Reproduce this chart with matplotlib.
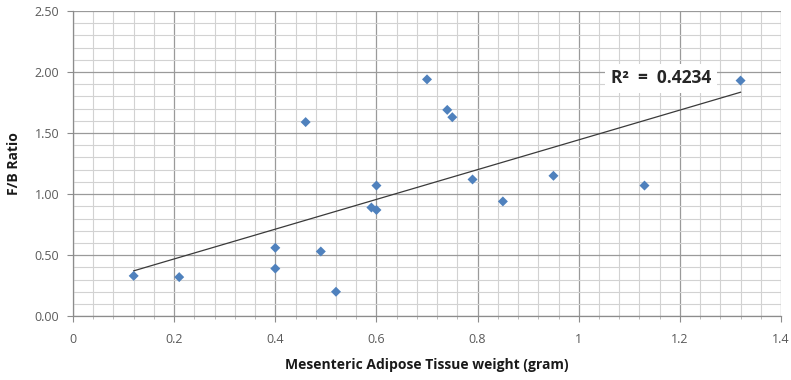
import numpy as np
import matplotlib
matplotlib.use("Agg")
import matplotlib.pyplot as plt
from matplotlib.ticker import MultipleLocator, FuncFormatter

plt.rcParams['font.family'] = ['Open Sans', 'DejaVu Sans']

# adipose tissue weight (g) vs F/B ratio
mat_weight = [0.12, 0.21, 0.40, 0.40, 0.49, 0.52, 0.59, 0.60, 0.60, 0.46,
              0.70, 0.74, 0.75, 0.79, 0.95, 1.13, 1.32, 0.85]
fb_ratio = [0.33, 0.32, 0.56, 0.39, 0.53, 0.20, 0.89, 0.87, 1.07, 1.59,
            1.94, 1.69, 1.63, 1.12, 1.15, 1.07, 1.93, 0.94]
r2_label = "R²  =  0.4234"

x = np.array(mat_weight)
y = np.array(fb_ratio)
slope, intercept = np.polyfit(x, y, 1)

fig = plt.figure(figsize=(7.91, 3.80), dpi=100)
ax = fig.add_axes([0.0923, 0.168, 0.8951, 0.803])

ax.set_xlim(0, 1.4)
ax.set_ylim(0, 2.5)
ax.xaxis.set_major_locator(MultipleLocator(0.2))
ax.xaxis.set_minor_locator(MultipleLocator(0.04))
ax.yaxis.set_major_locator(MultipleLocator(0.5))
ax.yaxis.set_minor_locator(MultipleLocator(0.1))
ax.xaxis.set_major_formatter(FuncFormatter(lambda v, p: f"{v:g}"))
ax.yaxis.set_major_formatter(FuncFormatter(lambda v, p: f"{v:.2f}"))

ax.grid(which='major', color='#9a9a9a', linewidth=0.9)
ax.grid(which='minor', color='#d2d2d2', linewidth=0.8)
ax.set_axisbelow(True)
for side in ['top', 'right']:
    ax.spines[side].set_visible(False)
for side in ['left', 'bottom']:
    ax.spines[side].set_color('#8c8c8c')
    ax.spines[side].set_linewidth(0.9)

ax.tick_params(which='major', length=4, color='#8c8c8c', labelsize=9,
               labelcolor='#5a5a5a')
ax.tick_params(axis='y', which='minor', length=0)
ax.tick_params(axis='x', which='minor', length=2, color='#b0b0b0')
ax.tick_params(axis='x', pad=8)
ax.tick_params(axis='y', pad=6)

xs = np.array([x.min(), x.max()])
ax.plot(xs, slope * xs + intercept, color='#3a3a3a', linewidth=0.9, zorder=3)
ax.scatter(x, y, marker='D', s=26, color='#4f81bd', edgecolors='none', zorder=4)

ax.text(1.163, 1.95, r2_label, fontsize=12.5, fontweight='bold', color='#262626',
        ha='center', va='center',
        bbox=dict(facecolor='white', edgecolor='none', pad=4), zorder=5)

ax.set_xlabel("Mesenteric Adipose Tissue weight (gram)", fontsize=10,
              fontweight='bold', color='#1a1a1a', labelpad=9)
ax.set_ylabel("F/B Ratio", fontsize=10, fontweight='bold', color='#1a1a1a',
              labelpad=10)

fig.savefig("out.png", dpi=100)
